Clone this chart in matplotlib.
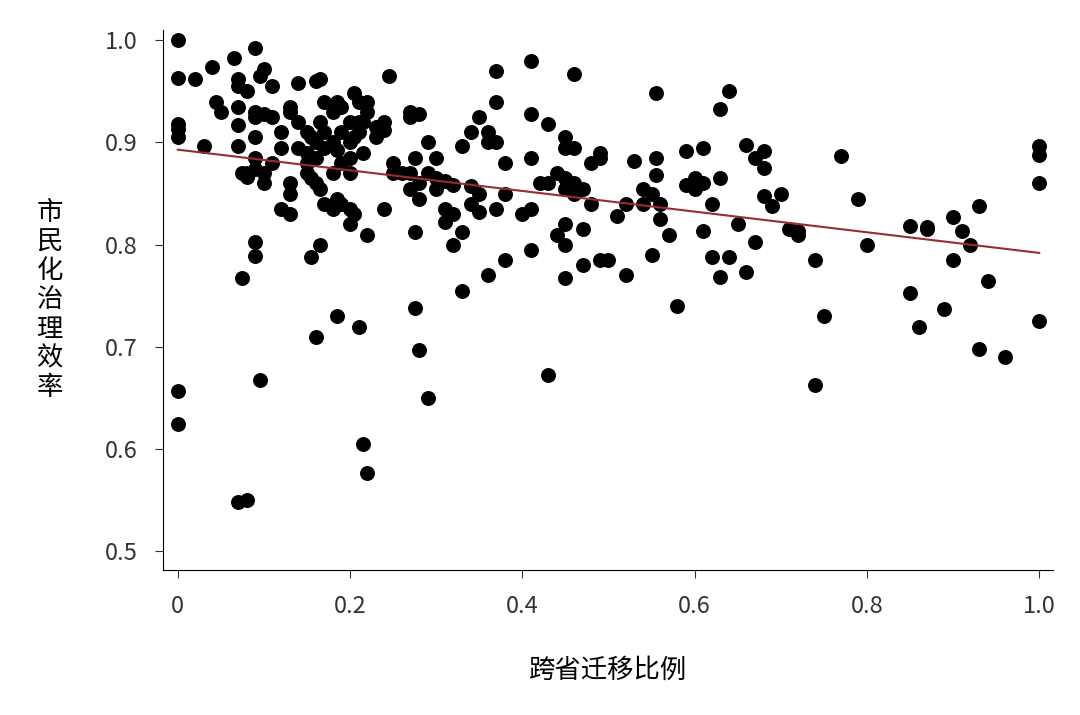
import numpy as np
import matplotlib.pyplot as plt

# (x, list of y)
cols = [
    (0.0, [1.0, 0.963, 0.918, 0.913, 0.905, 0.657, 0.625]),
    (0.02, [0.962]), (0.03, [0.897]), (0.04, [0.974]), (0.045, [0.94]), (0.05, [0.93]),
    (0.065, [0.983]), (0.07, [0.962, 0.955, 0.935, 0.917, 0.897, 0.548]),
    (0.075, [0.87, 0.767]), (0.08, [0.55, 0.95, 0.87, 0.866]),
    (0.09, [0.992, 0.93, 0.925, 0.905, 0.885, 0.874, 0.803, 0.789]),
    (0.095, [0.668, 0.965]), (0.1, [0.972, 0.928, 0.87, 0.86]),
    (0.11, [0.955, 0.925, 0.88]), (0.12, [0.91, 0.895, 0.835]),
    (0.13, [0.935, 0.93, 0.83, 0.86, 0.85]), (0.14, [0.92, 0.895, 0.958]),
    (0.15, [0.91, 0.89, 0.88, 0.87]), (0.155, [0.905, 0.865, 0.788]),
    (0.16, [0.96, 0.9, 0.885, 0.71, 0.86]), (0.165, [0.962, 0.92, 0.855, 0.8]),
    (0.17, [0.94, 0.91, 0.895, 0.84]), (0.18, [0.93, 0.9, 0.87, 0.835]),
    (0.185, [0.94, 0.73, 0.893, 0.845]), (0.19, [0.935, 0.91, 0.88, 0.84]),
    (0.2, [0.92, 0.9, 0.885, 0.87, 0.82, 0.835]), (0.205, [0.948, 0.905, 0.83]),
    (0.21, [0.94, 0.92, 0.72, 0.91]), (0.215, [0.605, 0.89, 0.92]),
    (0.22, [0.94, 0.81, 0.577, 0.93]), (0.23, [0.915, 0.905]),
    (0.24, [0.912, 0.835, 0.92]), (0.245, [0.965]), (0.25, [0.88, 0.87]),
    (0.26, [0.87]), (0.27, [0.93, 0.925, 0.87, 0.855]), (0.275, [0.738, 0.885, 0.812]),
    (0.28, [0.928, 0.697, 0.86, 0.845]), (0.29, [0.9, 0.87, 0.65]),
    (0.3, [0.885, 0.855, 0.865]), (0.31, [0.862, 0.835, 0.822]),
    (0.32, [0.858, 0.8, 0.83]), (0.33, [0.897, 0.755, 0.812]),
    (0.34, [0.91, 0.857, 0.84]), (0.35, [0.925, 0.85, 0.832]),
    (0.36, [0.9, 0.91, 0.77]), (0.37, [0.97, 0.94, 0.9, 0.835]),
    (0.38, [0.88, 0.85, 0.785]), (0.4, [0.83]),
    (0.41, [0.98, 0.928, 0.885, 0.835, 0.795]), (0.42, [0.86]),
    (0.43, [0.918, 0.673, 0.86]), (0.44, [0.87, 0.81]),
    (0.45, [0.905, 0.895, 0.865, 0.855, 0.82, 0.8, 0.767]),
    (0.46, [0.967, 0.895, 0.86, 0.85]), (0.47, [0.78, 0.815, 0.855]),
    (0.48, [0.84, 0.88]), (0.49, [0.89, 0.885, 0.785]), (0.5, [0.785]),
    (0.51, [0.828]), (0.52, [0.77, 0.84]), (0.53, [0.882]), (0.54, [0.855, 0.84]),
    (0.55, [0.79, 0.85]), (0.555, [0.948, 0.885, 0.868]), (0.56, [0.825, 0.84]),
    (0.57, [0.81]), (0.58, [0.74]), (0.59, [0.892, 0.858]), (0.6, [0.865, 0.855]),
    (0.61, [0.895, 0.86, 0.813]), (0.62, [0.84, 0.788]), (0.63, [0.933, 0.865, 0.768]),
    (0.64, [0.95, 0.788]), (0.65, [0.82]), (0.66, [0.898, 0.773]),
    (0.67, [0.803, 0.885]), (0.68, [0.848, 0.892, 0.875]), (0.69, [0.838]),
    (0.7, [0.85]), (0.71, [0.815]), (0.72, [0.81, 0.813]), (0.74, [0.785, 0.663]),
    (0.75, [0.73]), (0.77, [0.887]), (0.79, [0.845]), (0.8, [0.8]),
    (0.85, [0.818, 0.753]), (0.86, [0.72]), (0.87, [0.817, 0.815]), (0.89, [0.737]),
    (0.9, [0.785, 0.827]), (0.91, [0.813]), (0.92, [0.8]), (0.93, [0.838, 0.698]),
    (0.94, [0.765]), (0.96, [0.69]), (1.0, [0.897, 0.888, 0.86, 0.725]),
]
x = np.array([c[0] for c in cols for _ in c[1]])
y = np.array([v for c in cols for v in c[1]])

# fitted line endpoints as seen in the chart
line_x = [0.0, 1.0]
line_y = [0.893, 0.792]

plt.rcParams['font.family'] = 'Noto Sans CJK SC'
fig = plt.figure(figsize=(10.8, 7.15), dpi=100)
ax = fig.add_axes([0.151, 0.203, 0.824, 0.755])
ax.scatter(x, y, s=95, color='black', zorder=2)
ax.plot(line_x, line_y, color='#9b2a35', lw=1.5, zorder=3)

ax.set_xlim(-0.017, 1.016)
ax.set_ylim(0.482, 1.01)
ax.set_xticks([0, 0.2, 0.4, 0.6, 0.8, 1.0])
ax.set_xticklabels(['0', '0.2', '0.4', '0.6', '0.8', '1.0'])
ax.set_yticks([0.5, 0.6, 0.7, 0.8, 0.9, 1.0])
ax.set_yticklabels(['0.5', '0.6', '0.7', '0.8', '0.9', '1.0'])
for s in ['top', 'right']:
    ax.spines[s].set_visible(False)
ax.tick_params(labelsize=17, colors='#333333', length=6, pad=12)
ax.set_xlabel('跨省迁移比例', fontsize=19, labelpad=28)
ax.set_ylabel('市\n民\n化\n治\n理\n效\n率', fontsize=19, rotation=0,
              va='center', labelpad=40, linespacing=1.1)
fig.savefig('out.png')
